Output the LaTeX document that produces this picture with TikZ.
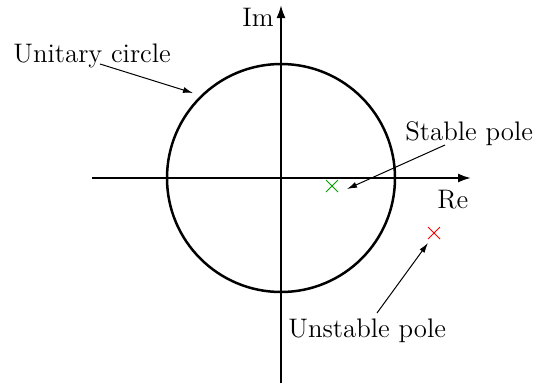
\documentclass[tikz,border=0pt]{standalone}
\usepackage{tikz}
\usetikzlibrary{arrows.meta, shapes.misc, positioning}
\definecolor{PoleGreen}{RGB}{0,160,0}
\definecolor{PoleRed}{RGB}{255,0,0}

\begin{document}
\begin{tikzpicture}[x=0.5pt,y=-0.5pt,
        lbl/.style={inner sep=0pt,anchor=base west,
                    font=\fontsize{13.4}{16}\selectfont},
        axis/.style={-{Latex[length=6.5pt,width=4.5pt]},line width=1pt},
        pole/.style={cross out,draw,inner sep=0pt,minimum size=5.5pt,line width=0.5pt},
        arr/.style={-{Latex[length=5pt,width=3pt]},line width=0.5pt}
      ]
        \useasboundingbox (0,0) rectangle (537,387);
        % axes and circle
        \coordinate (o) at (281,178);
        \coordinate (xl) at (92,178);  \coordinate (xr) at (471,178);
        \coordinate (yb) at (281,383); \coordinate (yt) at (281,5);
        \draw[axis] (xl)--(xr);
        \draw[axis] (yb)--(yt);
        \draw[line width=1.25pt] (o) circle[radius=57pt];
        \node[lbl] (im) at (242,26) {Im};
        \node[lbl] (re) at (437,208) {Re};
        % poles
        \node[pole,draw=PoleGreen] (sp) at (332,186) {};
        \node[pole,draw=PoleRed] (up) at (434,233) {};
        % labels
        \node[lbl] (uc) at (13,62) {Unitary circle};
        \node[lbl] (sl) at (405,140) {Stable pole};
        \node[lbl] (ul) at (288,337) {Unstable pole};
        \coordinate (ucs) at (100,64);  \coordinate (uce) at (193,93);
        \coordinate (sls) at (445,145); \coordinate (sle) at (347,189);
        \coordinate (uls) at (377,313); \coordinate (ule) at (428,243);
        \draw[arr] (ucs)--(uce);
        \draw[arr] (sls)--(sle);
        \draw[arr] (uls)--(ule);
      \end{tikzpicture}
\end{document}
